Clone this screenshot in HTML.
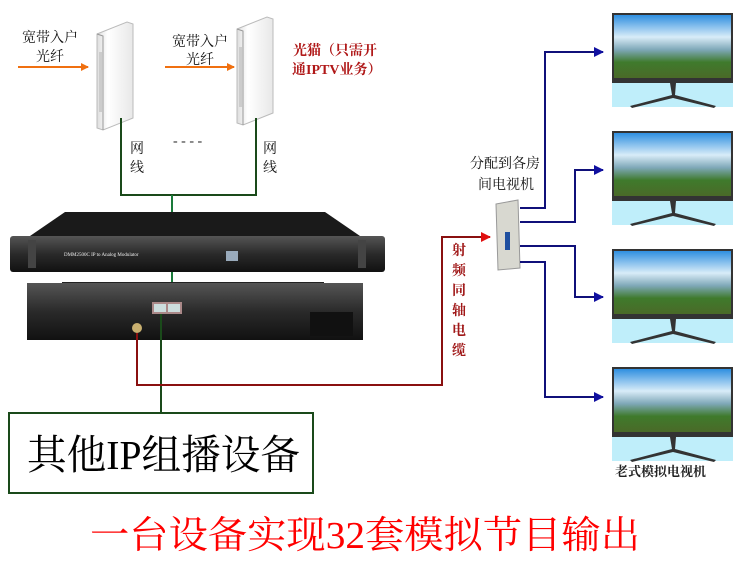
<!DOCTYPE html>
<html><head><meta charset="utf-8"><style>
html,body{margin:0;padding:0;background:#fff;}
svg{display:block;}
text{font-family:"Liberation Serif","Noto Serif CJK SC",serif;}
</style></head><body>
<svg width="750" height="574" viewBox="0 0 750 574" xmlns="http://www.w3.org/2000/svg">
<defs>
<linearGradient id="sky" x1="0" y1="0" x2="0" y2="1">
<stop offset="0" stop-color="#2f8fe0"/><stop offset="0.35" stop-color="#d8ecf8"/><stop offset="0.55" stop-color="#7fa8b8"/><stop offset="0.75" stop-color="#3f7a2c"/><stop offset="1" stop-color="#4a6a28"/>
</linearGradient>
<linearGradient id="dev" x1="0" y1="0" x2="0" y2="1">
<stop offset="0" stop-color="#555"/><stop offset="0.5" stop-color="#2a2a2a"/><stop offset="1" stop-color="#111"/>
</linearGradient>
<linearGradient id="rt" x1="0" y1="0" x2="1" y2="0">
<stop offset="0" stop-color="#ddd"/><stop offset="0.3" stop-color="#fff"/><stop offset="1" stop-color="#e8e8e8"/>
</linearGradient>
<g id="tv">
<rect x="0" y="0" width="121" height="94" fill="#bfeefa"/>
<rect x="0" y="0" width="121" height="70" fill="#333"/>
<rect x="2" y="2" width="117" height="63" fill="url(#sky)"/>
<path d="M58 70 L60 82 L18 93 L20 95 L61 85 L102 95 L104 93 L63 82 L64 70Z" fill="#333"/>
</g>
<g id="router">
<path d="M0 12 L30 0 L36 2 L36 96 L6 108 L0 106Z" fill="url(#rt)" stroke="#bbb"/>
<path d="M0 12 L6 14 L6 108" fill="none" stroke="#999"/>
<rect x="2" y="30" width="3" height="60" fill="#ccc"/>
</g>
<marker id="ao" markerWidth="8" markerHeight="8" refX="7" refY="4" orient="auto" markerUnits="userSpaceOnUse"><path d="M0 0L8 4L0 8Z" fill="#f07010"/></marker>
<marker id="ab" markerWidth="10" markerHeight="10" refX="9" refY="5" orient="auto" markerUnits="userSpaceOnUse"><path d="M0 0L10 5L0 10Z" fill="#1010a0"/></marker>
<marker id="ar" markerWidth="10" markerHeight="10" refX="9" refY="5" orient="auto" markerUnits="userSpaceOnUse"><path d="M0 0L10 5L0 10Z" fill="#e01010"/></marker>
</defs>

<use href="#router" x="97" y="22"/>
<use href="#router" x="237" y="17"/>
<text x="22" y="42" font-size="14" font-family="Liberation Sans,Noto Sans CJK SC,sans-serif" fill="#111">宽带入户</text>
<text x="36" y="61" font-size="14" font-family="Liberation Sans,Noto Sans CJK SC,sans-serif" fill="#111">光纤</text>
<text x="172" y="46" font-size="14" font-family="Liberation Sans,Noto Sans CJK SC,sans-serif" fill="#111">宽带入户</text>
<text x="186" y="64" font-size="14" font-family="Liberation Sans,Noto Sans CJK SC,sans-serif" fill="#111">光纤</text>
<line x1="18" y1="67" x2="88" y2="67" stroke="#f07010" stroke-width="2" marker-end="url(#ao)"/>
<line x1="165" y1="67" x2="234" y2="67" stroke="#f07010" stroke-width="2" marker-end="url(#ao)"/>
<text x="293" y="55" font-size="14" font-weight="bold" fill="#b01818">光猫（只需开</text>
<text x="292" y="74" font-size="14" font-weight="bold" fill="#b01818">通IPTV业务）</text>

<path d="M121 118 V195 H256 V118" fill="none" stroke="#1a4a1a" stroke-width="2"/>
<line x1="172" y1="195" x2="172" y2="308" stroke="#1a7a3a" stroke-width="2"/>
<text x="173" y="145" font-size="14" fill="#222">- - - -</text>
<text x="130" y="153" font-size="14" font-family="Liberation Sans,Noto Sans CJK SC,sans-serif" fill="#111">网</text>
<text x="130" y="172" font-size="14" font-family="Liberation Sans,Noto Sans CJK SC,sans-serif" fill="#111">线</text>
<text x="263" y="153" font-size="14" font-family="Liberation Sans,Noto Sans CJK SC,sans-serif" fill="#111">网</text>
<text x="263" y="172" font-size="14" font-family="Liberation Sans,Noto Sans CJK SC,sans-serif" fill="#111">线</text>

<path d="M65 212 L325 212 L360 236 L30 236Z" fill="#1a1a1a"/>
<rect x="10" y="236" width="375" height="36" rx="3" fill="url(#dev)"/>
<rect x="28" y="240" width="8" height="28" fill="#444"/><rect x="358" y="240" width="8" height="28" fill="#444"/>
<text x="64" y="256" font-size="5" fill="#eee" font-family="Liberation Sans,sans-serif">DMM2500C IP to Analog Modulator</text>
<rect x="226" y="251" width="12" height="10" fill="#9ab"/>
<rect x="62" y="282" width="262" height="8" fill="#222"/>
<rect x="27" y="283" width="336" height="57" fill="url(#dev)"/>
<rect x="152" y="302" width="30" height="12" fill="#a88"/>
<rect x="154" y="304" width="12" height="8" fill="#cdd"/><rect x="168" y="304" width="12" height="8" fill="#cdd"/>
<circle cx="137" cy="328" r="5" fill="#c9b070"/>
<rect x="310" y="312" width="43" height="24" fill="#111"/>
<line x1="161" y1="314" x2="161" y2="413" stroke="#1a4a1a" stroke-width="2"/>

<path d="M137 333 V385 H442 V237 H490" fill="none" stroke="#8a1010" stroke-width="2" marker-end="url(#ar)"/>
<text font-size="14" font-weight="bold" fill="#a01818" font-family="Liberation Sans,Noto Sans CJK SC,sans-serif"><tspan x="452" y="255">射</tspan><tspan x="452" y="275">频</tspan><tspan x="452" y="295">同</tspan><tspan x="452" y="315">轴</tspan><tspan x="452" y="335">电</tspan><tspan x="452" y="355">缆</tspan></text>

<text x="470" y="168" font-size="14" font-family="Liberation Sans,Noto Sans CJK SC,sans-serif" fill="#111">分配到各房</text>
<text x="478" y="189" font-size="14" font-family="Liberation Sans,Noto Sans CJK SC,sans-serif" fill="#111">间电视机</text>
<path d="M496 204 L518 200 L520 268 L498 270Z" fill="#d8d8d0" stroke="#999"/>
<rect x="505" y="232" width="5" height="18" fill="#2050a0"/>
<g fill="none" stroke="#10107a" stroke-width="2">
<path d="M520 208 H545 V52 H603" marker-end="url(#ab)"/>
<path d="M520 222 H575 V170 H603" marker-end="url(#ab)"/>
<path d="M520 246 H575 V297 H603" marker-end="url(#ab)"/>
<path d="M520 262 H545 V397 H603" marker-end="url(#ab)"/>
</g>

<use href="#tv" x="612" y="13"/>
<use href="#tv" x="612" y="131"/>
<use href="#tv" x="612" y="249"/>
<use href="#tv" x="612" y="367"/>
<text x="615" y="476" font-size="13" font-weight="bold" fill="#222">老式模拟电视机</text>

<rect x="9" y="413" width="304" height="80" fill="#fff" stroke="#1a4a1a" stroke-width="2"/>
<text x="27" y="469" font-size="41" fill="#000" textLength="273" lengthAdjust="spacingAndGlyphs">其他IP组播设备</text>

<text x="90" y="548" font-size="38" fill="#ff0000" textLength="550" lengthAdjust="spacingAndGlyphs">一台设备实现32套模拟节目输出</text>
</svg>
</body></html>
